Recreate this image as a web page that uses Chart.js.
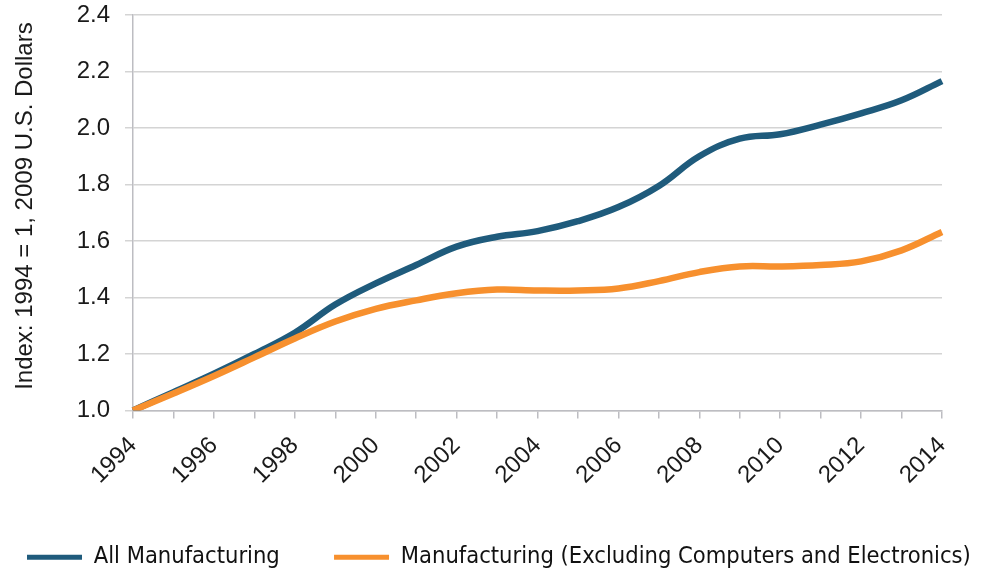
<!DOCTYPE html>
<html>
<head>
<meta charset="utf-8">
<script src="https://cdn.jsdelivr.net/npm/chart.js@4"></script>
<style>
  html, body { margin: 0; padding: 0; background: #fff; }
  #wrap { width: 988px; height: 569px; position: relative; }
</style>
</head>
<body>
<div id="wrap"><canvas id="mfgChart"></canvas></div>
<script>
// Data
const years = ['1994','1995','1996','1997','1998','1999','2000','2001','2002','2003','2004',
               '2005','2006','2007','2008','2009','2010','2011','2012','2013','2014'];
const allManufacturing = [1.00, 1.065, 1.13, 1.20, 1.275, 1.375, 1.45, 1.515, 1.58, 1.615, 1.635,
                          1.67, 1.72, 1.795, 1.90, 1.962, 1.978, 2.012, 2.052, 2.098, 2.166];
const exclComputers = [1.00, 1.06, 1.122, 1.188, 1.255, 1.315, 1.36, 1.39, 1.415, 1.428, 1.425,
                       1.425, 1.432, 1.458, 1.49, 1.51, 1.51, 1.515, 1.528, 1.567, 1.632];
const yTicks = [1.0, 1.2, 1.4, 1.6, 1.8, 2.0, 2.2, 2.4];

const tickFont = { family: "'Liberation Sans', Arial, sans-serif", size: 24 };
const legendFont = { family: "'DejaVu Sans Condensed', sans-serif", size: 23.5 };

const ctx = document.getElementById('mfgChart').getContext('2d');

new Chart(ctx, {
    type: 'line',
    data: {
        labels: years,
        datasets: [{
            label: 'All Manufacturing',
            data: allManufacturing,
            borderColor: '#1f5b7c',
            backgroundColor: '#1f5b7c',
            borderWidth: 6.5,
            pointRadius: 0,
            tension: 0.4,
            order: 1
        }, {
            label: 'Manufacturing (Excluding Computers and Electronics)',
            data: exclComputers,
            borderColor: '#f7902e',
            backgroundColor: '#f7902e',
            borderWidth: 6.5,
            pointRadius: 0,
            tension: 0.4,
            order: 0
        }]
    },
    options: {
        responsive: true,
        maintainAspectRatio: false,
        animation: false,
        layout: {
            padding: { top: 0, right: 0, left: 13, bottom: -10 }
        },
        plugins: {
            tooltip: { enabled: false },
            legend: {
                position: 'bottom',
                align: 'start',
                labels: {
                    color: '#111',
                    font: legendFont,
                    boxWidth: 55,
                    boxHeight: 5,
                    padding: 14,
                    sort: (a, b) => a.datasetIndex - b.datasetIndex,
                    generateLabels: function(chart) {
                        const items = Chart.defaults.plugins.legend.labels.generateLabels(chart);
                        items.forEach(item => {
                            item.lineWidth = 0;
                            if (item.datasetIndex === 0) item.text = item.text + '      ';
                        });
                        return items;
                    }
                }
            }
        },
        scales: {
            x: {
                grid: {
                    drawOnChartArea: false,
                    color: '#bdbdc2',
                    tickLength: 8,
                    lineWidth: 1.5
                },
                border: { color: '#bdbdc2', width: 1.5 },
                ticks: {
                    color: '#1a1a1a',
                    font: tickFont,
                    autoSkip: false,
                    minRotation: 45,
                    maxRotation: 45,
                    padding: 13,
                    callback: function(value, index) {
                        return index % 2 === 0 ? years[index] : '';
                    }
                },
                afterFit: function(scale) {
                    scale.height = 121;
                    scale.paddingRight = 46;
                    scale.paddingLeft = 0;
                }
            },
            y: {
                min: 1.0,
                max: 2.4,
                afterBuildTicks: function(scale) {
                    scale.ticks = yTicks.map(v => ({ value: v }));
                },
                grid: {
                    color: '#d4d4d4',
                    tickLength: 8,
                    lineWidth: 1.5
                },
                border: { color: '#bdbdc2', width: 1.5 },
                ticks: {
                    color: '#1a1a1a',
                    font: tickFont,
                    padding: 15,
                    callback: function(value) {
                        return value.toFixed(1);
                    }
                },
                title: {
                    display: true,
                    text: '  Index: 1994 = 1, 2009 U.S. Dollars',
                    color: '#1a1a1a',
                    font: { family: "'Liberation Sans', Arial, sans-serif", size: 24, lineHeight: 1 },
                    padding: { top: 0, bottom: 0 }
                },
                afterFit: function(scale) {
                    scale.width = 120;
                    scale.paddingTop = 15;
                }
            }
        }
    }
});
</script>
</body>
</html>
